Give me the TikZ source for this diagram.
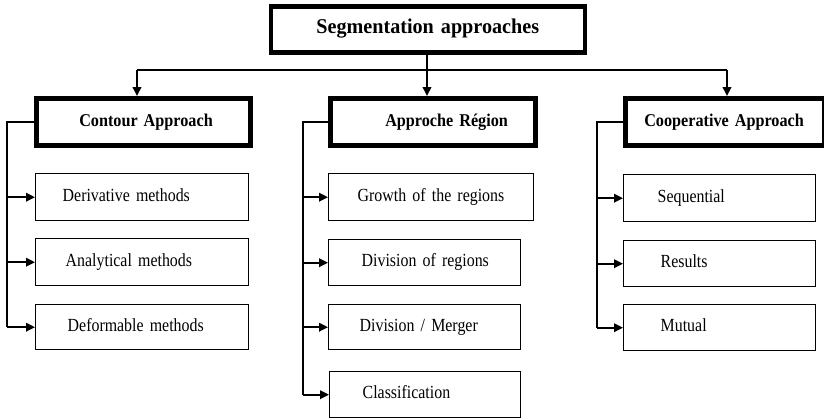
\documentclass[tikz,border=0pt]{standalone}
\usepackage{fontspec}
\setmainfont{Liberation Serif}
\newfontfamily\leaffont[FakeStretch=0.86]{Liberation Serif}
\newfontfamily\headfont[FakeStretch=0.9]{Liberation Serif}
\newfontfamily\titlefont[FakeStretch=0.96]{Liberation Serif}
\newcommand\myleafsp{\spaceskip=0.17em\relax}
\newcommand\myheadsp{\spaceskip=0.2em\relax}
\newcommand\mytitlesp{\spaceskip=0.22em\relax}
\usetikzlibrary{arrows.meta}
\begin{document}
\begin{tikzpicture}[x=1pt,y=-1pt,
  thickbox/.style={draw, line width=4.5pt, anchor=north west, inner ysep=0pt, align=left, text height=13pt, text depth=3.4pt, font=\headfont\fontsize{18}{20}\selectfont\bfseries\myheadsp},
  leaf/.style={draw, line width=1.4pt, anchor=north west, inner ysep=0pt, align=left, text height=13pt, text depth=4.6pt, font=\leaffont\fontsize{18.5}{20}\selectfont\myleafsp},
  conn/.style={line width=2pt},
  arr/.style={line width=2pt, -{Triangle[length=9pt,width=8.5pt]}}
]
\useasboundingbox (0,0) rectangle (824,420);
% top
\node[thickbox, minimum width=314pt, minimum height=46pt, text width=294pt, inner xsep=10pt, align=center, text height=15pt, text depth=8pt, font=\titlefont\fontsize{21}{23}\selectfont\bfseries\mytitlesp] (top) at (268.5,4.5) {\mbox{Segmentation approaches}};
% headers
\node[thickbox, minimum width=214pt, minimum height=47pt, text width=128pt, inner xsep=43pt] (contour) at (34,96) {\mbox{Contour Approach}};
\node[thickbox, minimum width=205pt, minimum height=47pt, text width=95pt, inner xsep=55pt] (region) at (328,96) {\mbox{Approche Région}};
\node[thickbox, minimum width=199pt, minimum height=47pt, text width=161pt, inner xsep=19pt] (coop) at (623,96) {\mbox{Cooperative Approach}};
% contour leaves
\node[leaf, minimum width=213pt, minimum height=47pt, text width=159pt, inner xsep=27pt] (deriv) at (35,173) {\mbox{Derivative methods}};
\node[leaf, minimum width=213pt, minimum height=47pt, text width=153pt, inner xsep=30pt] (analyt) at (35,238) {\mbox{Analytical methods}};
\node[leaf, minimum width=213pt, minimum height=45pt, text width=149pt, inner xsep=32pt] (deform) at (35,304) {\mbox{Deformable methods}};
% region leaves
\node[leaf, minimum width=205pt, minimum height=47pt, text width=147pt, inner xsep=29pt] (growth) at (328,173) {\mbox{Growth of the regions}};
\node[leaf, minimum width=192pt, minimum height=46pt, text width=126pt, inner xsep=33pt] (divreg) at (328,239) {\mbox{Division of regions}};
\node[leaf, minimum width=192pt, minimum height=45pt, text width=130pt, inner xsep=31pt] (divmer) at (328,304) {\mbox{Division / Merger}};
\node[leaf, minimum width=191pt, minimum height=46pt, text width=125pt, inner xsep=33pt] (classif) at (329,371) {\mbox{Classification}};
% coop leaves
\node[leaf, minimum width=192pt, minimum height=47pt, text width=124pt, inner xsep=34pt] (seq) at (623,174) {\mbox{Sequential}};
\node[leaf, minimum width=192pt, minimum height=46pt, text width=118pt, inner xsep=37pt] (res) at (623,240) {\mbox{Results}};
\node[leaf, minimum width=192pt, minimum height=46pt, text width=118pt, inner xsep=37pt] (mut) at (623,304) {\mbox{Mutual}};
% top connectors
\coordinate (hl) at (137,70);
\coordinate (hm) at (427,70);
\coordinate (hr) at (727,70);
\draw[conn] (top.south -| hm) -- (hm);
\draw[conn] (hl) -- (hr);
\draw[arr] (hl) -- (hl |- contour.north);
\draw[arr] (hm) -- (hm |- region.north);
\draw[arr] (hr) -- (hr |- coop.north);
% contour bracket
\coordinate (cx) at (7,0);
\draw[conn] (contour.west) -- (contour.west -| cx) -- (deform.west -| cx);
\draw[arr] (deform.west -| cx) -- (deform.west);
\draw[arr] (deriv.west -| cx) -- (deriv.west);
\draw[arr] (analyt.west -| cx) -- (analyt.west);
% region bracket
\coordinate (rx) at (303,0);
\draw[conn] (region.west) -- (region.west -| rx) -- (classif.west -| rx);
\draw[arr] (classif.west -| rx) -- (classif.west);
\draw[arr] (growth.west -| rx) -- (growth.west);
\draw[arr] (divreg.west -| rx) -- (divreg.west);
\draw[arr] (divmer.west -| rx) -- (divmer.west);
% coop bracket
\coordinate (ox) at (597,0);
\draw[conn] (coop.west) -- (coop.west -| ox) -- (mut.west -| ox);
\draw[arr] (mut.west -| ox) -- (mut.west);
\draw[arr] (seq.west -| ox) -- (seq.west);
\draw[arr] (res.west -| ox) -- (res.west);
\end{tikzpicture}
\end{document}
